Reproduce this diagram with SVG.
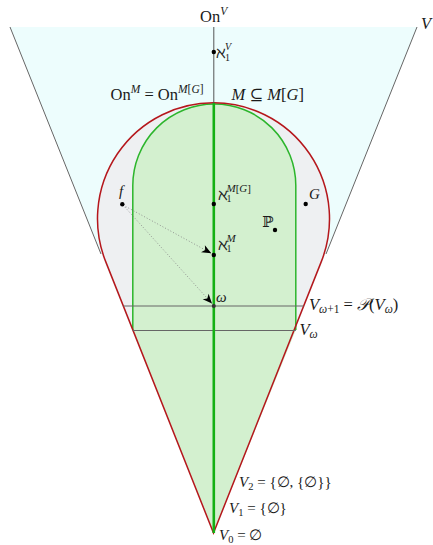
<svg xmlns="http://www.w3.org/2000/svg" width="433" height="545" viewBox="0 0 433 545">
<style>
text{font-family:"Liberation Serif","DejaVu Serif",serif;font-size:15px;fill:#1a1a1a}
.i{font-style:italic}
.s{font-size:10.5px}
.big{font-size:16.5px}
.big .s{font-size:11.5px}
.alef{font-size:16px}
.gl{stroke:#666;stroke-width:1;fill:none}
.dot{fill:#000}
.arr{stroke:#8a8a8a;stroke-width:0.9;stroke-dasharray:1 2;fill:none;marker-end:url(#stealth)}
</style>
<defs>
<marker id="stealth" viewBox="-10 -5 11 10" refX="0" refY="0" markerWidth="11" markerHeight="10" markerUnits="userSpaceOnUse" orient="auto">
<path d="M0,0 L-9.5,-4 L-7,0 L-9.5,4 Z" fill="#000"/>
</marker>
</defs>
<g id="cone-V">
<polygon points="10,27 417,27 213.5,533" fill="#edfdfd"/>
<line class="gl" x1="10" y1="27" x2="101" y2="254"/>
<line class="gl" x1="417" y1="27" x2="326" y2="254"/>
</g>
<g id="model-M">
<path d="M213.5,533 L105.8,261.9 A116,116 0 1 1 321.2,261.9 Z" fill="#eef0f2"/>
</g>
<g id="model-MG">
<path d="M213.5,533 L132.8,330 L132.8,185.5 A81.5,81.5 0 0 1 295.8,185.5 L295.8,330 Z" fill="#d3f0cf"/>
<path d="M132.8,330 L132.8,185.5 A81.5,81.5 0 0 1 295.8,185.5 L295.8,330" fill="none" stroke="#2cb52c" stroke-width="1.5"/>
</g>
<g id="model-M-outline">
<path d="M213.5,533 L105.8,261.9 A116,116 0 1 1 321.2,261.9 Z" fill="none" stroke="#b5171c" stroke-width="1.5" stroke-linejoin="miter"/>
</g>
<g id="levels">
<line class="gl" x1="123.4" y1="306" x2="303.6" y2="306"/>
<line class="gl" x1="132.8" y1="330.5" x2="295.8" y2="330.5"/>
</g>
<g id="axis">
<line x1="213.8" y1="27" x2="213.8" y2="103" stroke="#555" stroke-width="1"/>
<line x1="213.8" y1="103" x2="213.8" y2="533" stroke="#14b014" stroke-width="2.6"/>
</g>
<g id="connectors">
<line class="arr" x1="123" y1="205" x2="211.3" y2="253.3"/>
<line class="arr" x1="123" y1="205" x2="212" y2="303.6"/>
</g>
<g id="node-aleph1-V">
<circle class="dot" cx="213.8" cy="52" r="2.2"/>
<text class="alef" x="216" y="58">ℵ<tspan font-size="10" x="225" dy="3">1</tspan><tspan class="i" font-size="10" x="225" dy="-11">V</tspan></text>
</g>
<g id="node-aleph1-MG">
<circle class="dot" cx="213.8" cy="204" r="2.2"/>
<text class="alef" x="217.5" y="199.5">ℵ<tspan font-size="10" x="226.5" dy="2">1</tspan><tspan font-size="11" x="226.5" dy="-10"><tspan class="i">M</tspan>[<tspan class="i">G</tspan>]</tspan></text>
</g>
<g id="node-aleph1-M">
<circle class="dot" cx="213.8" cy="255" r="2.2"/>
<text class="alef" x="217.5" y="249.5">ℵ<tspan font-size="10" x="226.5" dy="2">1</tspan><tspan class="i" font-size="11" x="226.5" dy="-10">M</tspan></text>
</g>
<g id="node-omega">
<circle cx="213.8" cy="306" r="2" fill="#333"/>
<text class="i" x="216" y="302" font-size="14">ω</text>
</g>
<g id="node-f">
<circle class="dot" cx="122.3" cy="204.3" r="2.2"/>
<text class="i" x="119" y="196" font-size="16">f</text>
</g>
<g id="node-G">
<circle class="dot" cx="305.7" cy="204" r="2.2"/>
<text class="i" x="309" y="199" font-size="16">G</text>
</g>
<g id="node-P">
<circle class="dot" cx="275" cy="230" r="2.2"/>
<text x="262" y="226.5" font-size="14" font-family="DejaVu Serif">ℙ</text>
</g>
<g id="labels">
<text class="big" x="200" y="22">On<tspan class="s i" dy="-7">V</tspan></text>
<text class="i big" x="421" y="29">V</text>
<text class="big" x="110.5" y="100">On<tspan class="s i" dy="-7">M</tspan><tspan dy="7"> = On</tspan><tspan class="s" dy="-7"><tspan class="i">M</tspan>[<tspan class="i">G</tspan>]</tspan></text>
<text class="big" x="231.5" y="100"><tspan class="i">M</tspan> ⊆ <tspan class="i">M</tspan>[<tspan class="i">G</tspan>]</text>
<text class="big" x="309" y="310"><tspan class="i">V</tspan><tspan class="s i" dy="3">ω</tspan><tspan class="s">+1</tspan><tspan dy="-3"> = </tspan><tspan class="i" font-family="DejaVu Serif">𝒫</tspan>(<tspan class="i">V</tspan><tspan class="s i" dy="3">ω</tspan><tspan dy="-3">)</tspan></text>
<text class="big" x="299.5" y="335"><tspan class="i">V</tspan><tspan class="s i" dy="3">ω</tspan></text>
<text x="239" y="487"><tspan class="i">V</tspan><tspan class="s" dy="3">2</tspan><tspan dy="-3"> = {∅, {∅}}</tspan></text>
<text x="229" y="513"><tspan class="i">V</tspan><tspan class="s" dy="3">1</tspan><tspan dy="-3"> = {∅}</tspan></text>
<text x="219" y="540"><tspan class="i">V</tspan><tspan class="s" dy="2.5">0</tspan><tspan dy="-2.5"> = ∅</tspan></text>
</g>
</svg>
